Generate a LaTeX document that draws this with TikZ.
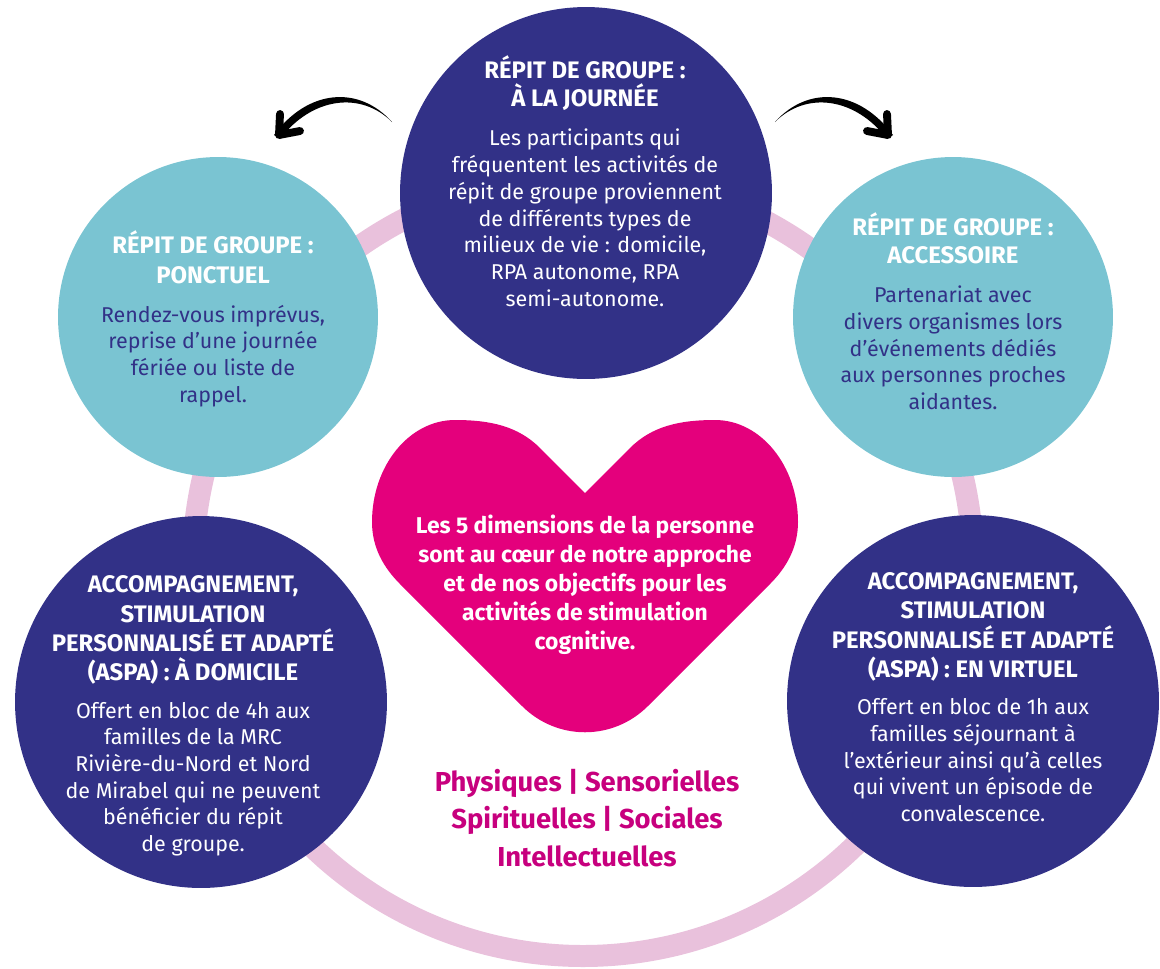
\documentclass[tikz,border=0pt]{standalone}
\usepackage{fontspec}
\setmainfont{Fira Sans}
\definecolor{navy}{RGB}{50,49,135}
\definecolor{lagoon}{RGB}{122,196,210}
\definecolor{ringpink}{RGB}{233,193,220}
\definecolor{heartpink}{RGB}{228,0,124}
\definecolor{dimpink}{RGB}{199,0,126}
\tikzset{
  disc/.style={circle, inner sep=0pt, minimum size=#1},
  blurb/.style={align=center, inner sep=0pt, font=\fontsize{12.2}{15.2}\selectfont},
  chevron/.style={line width=4.5pt, line cap=round, line join=round},
}
\newcommand{\hd}[1]{\textcolor{white}{\bfseries\fontsize{13.6}{15.2}\selectfont #1}}

\begin{document}
\begin{tikzpicture}[x=0.02cm,y=-0.02cm]
  \useasboundingbox (0,0) rectangle (1160,968);
  % ring behind the discs
  \draw[ringpink, line width=0.44cm] (583,566) circle[radius=390];
  % discs
  \node[disc=7.44cm, fill=navy] (jour) at (586,193) {};
  \node[disc=6.4cm, fill=lagoon] (ponct) at (218,317) {};
  \node[disc=6.4cm, fill=lagoon] (access) at (953,317) {};
  \node[disc=7.44cm, fill=navy] (domic) at (201,702) {};
  \node[disc=7.44cm, fill=navy] (virt) at (973,701) {};
  % heart
  \fill[heartpink] (585,493) -- (540,448) .. controls (518,426) and (490,420) .. (455,420)
    .. controls (409,420) and (372,466) .. (372,522) .. controls (372,548) and (384,568) .. (400,584)
    -- (522,706) .. controls (557,741) and (613,741) .. (648,706) -- (770,584)
    .. controls (786,568) and (798,548) .. (798,522) .. controls (798,466) and (761,420) .. (715,420)
    .. controls (680,420) and (652,426) .. (630,448) -- cycle;
  % texts
  \node[blurb, text=white] (jourtxt) at (585,181) {\hd{RÉPIT DE GROUPE :}\\[1pt] \hd{À LA JOURNÉE}\\[7pt]
    Les participants qui\\ fréquentent les activités de\\ répit de groupe proviennent\\
    de différents types de\\ milieux de vie : domicile,\\ RPA autonome, RPA\\ semi-autonome.};
  \node[blurb, text=navy] (poncttxt) at (213,319) {\hd{RÉPIT DE GROUPE :}\\[1.5pt] \hd{PONCTUEL}\\[7pt]
    Rendez-vous imprévus,\\ reprise d’une journée\\ fériée ou liste de\\ rappel.};
  \node[blurb, text=navy] (accesstxt) at (953,311) {\hd{RÉPIT DE GROUPE :}\\[1pt] \hd{ACCESSOIRE}\\[7pt]
    Partenariat avec\\ divers organismes lors\\ d’événements dédiés\\ aux personnes proches\\ aidantes.};
  \node[blurb, text=white] (domictxt) at (193,716) {\hd{ACCOMPAGNEMENT,}\\[1.5pt] \hd{STIMULATION}\\[1.5pt]
    \hd{PERSONNALISÉ ET ADAPTÉ}\\[1.5pt] \hd{(ASPA) : À DOMICILE}\\[6pt]
    Offert en bloc de 4h aux\\ familles de la MRC\\ Rivière-du-Nord et Nord\\ de Mirabel qui ne peuvent\\
    bénéficier du répit\\ de groupe.};
  \node[blurb, text=white] (virttxt) at (973,697) {\hd{ACCOMPAGNEMENT,}\\[1.5pt] \hd{STIMULATION}\\[1.5pt]
    \hd{PERSONNALISÉ ET ADAPTÉ}\\[1.5pt] \hd{(ASPA) : EN VIRTUEL}\\[6pt]
    Offert en bloc de 1h aux\\ familles séjournant à\\ l’extérieur ainsi qu’à celles\\ qui vivent un épisode de\\ convalescence.};
  \node[align=center, inner sep=0pt, text=white, font=\bfseries\fontsize{13}{16.5}\selectfont] (coeur) at (585,585)
    {Les 5 dimensions de la personne\\ sont au cœur de notre approche\\ et de nos objectifs pour les\\ activités de stimulation\\ cognitive.};
  \node[align=center, inner sep=0pt, text=dimpink, font=\bfseries\fontsize{15.6}{21.3}\selectfont] (dims) at (587,818)
    {Physiques | Sensorielles\\ Spirituelles | Sociales\\ Intellectuelles};
  % arrows
  \coordinate (lbeg) at (392,122);
  \coordinate (rbeg) at (775,122);
  \fill (lbeg) .. controls (359,85) and (308,89) .. (274,135) -- (280,139)
    .. controls (312,97) and (361,91) .. (lbeg);
  \draw[chevron] (280,114) -- (279,135) -- (300,131);
  \fill (rbeg) .. controls (808,85) and (859,89) .. (893,135) -- (887,139)
    .. controls (855,97) and (806,91) .. (rbeg);
  \draw[chevron] (887,114) -- (888,135) -- (867,131);
\end{tikzpicture}
\end{document}
